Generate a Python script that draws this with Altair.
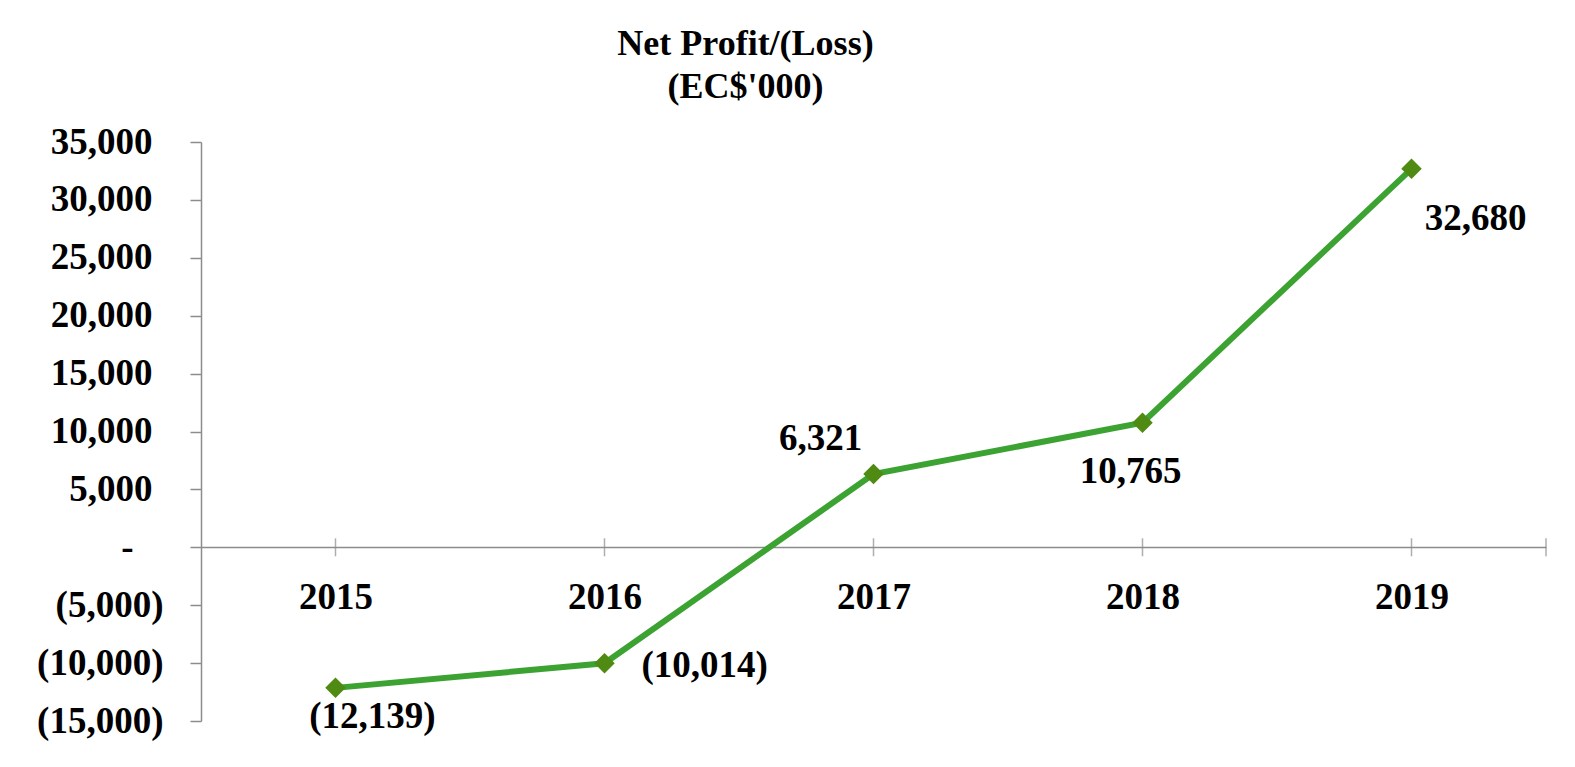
import altair as alt
import pandas as pd

years = [2015, 2016, 2017, 2018, 2019]
net_profit = [-12139, -10014, 6321, 10765, 32680]
y_ticks = [-15000, -10000, -5000, 0, 5000, 10000, 15000, 20000, 25000, 30000, 35000]
x_tick_marks = [2015, 2016, 2017, 2018, 2019, 2019.5]
title_lines = ["Net Profit/(Loss)", "(EC$'000)"]

FONT = "Liberation Serif"
GRAY = "#8c8c8c"
LINE_GREEN = "#3ca332"
MARK_GREEN = "#4f8a12"

df = pd.DataFrame({"year": years, "value": net_profit})
ticks_df = pd.DataFrame({"tx": x_tick_marks})

xscale = alt.Scale(domain=[2014.5, 2019.5], nice=False, zero=False)
yscale = alt.Scale(domain=[-15000, 35000], nice=False)

label_expr = (
    "datum.value < 0 ? '(' + format(-datum.value, ',') + ')' : "
    "(datum.value == 0 ? '-' : format(datum.value, ','))"
)

y_label_padding = {
    "condition": [
        {"test": "datum.value < 0", "value": 27},
        {"test": "datum.value == 0", "value": 57},
    ],
    "value": 38,
}

base = alt.Chart(df)

line = base.mark_line(color=LINE_GREEN, strokeWidth=6).encode(
    x=alt.X("year:Q", scale=xscale,
            axis=alt.Axis(values=years, format="d", title=None, ticks=False,
                          labelPadding=32, offset=-174, domainColor=GRAY,
                          domainWidth=1.5, labelFont=FONT, labelFontSize=37,
                          labelFontWeight="bold", labelColor="black",
                          labelBaseline="top", grid=False)),
    y=alt.Y("value:Q", scale=yscale,
            axis=alt.Axis(values=y_ticks, title=None, labelExpr=label_expr,
                          tickSize=11, tickWidth=1.5, tickColor=GRAY,
                          domainColor=GRAY, domainWidth=1.5,
                          labelPadding=y_label_padding,
                          labelFont=FONT, labelFontSize=37, labelFontWeight="bold",
                          labelColor="black", grid=False)),
)

xticks = alt.Chart(ticks_df).mark_tick(orient="vertical", size=18, thickness=1.5,
                                        color=GRAY).encode(
    x=alt.X("tx:Q", scale=xscale), y=alt.datum(0, scale=yscale)
)

points = base.mark_point(shape="diamond", filled=True, size=420, color=MARK_GREEN,
                         opacity=1).encode(
    x=alt.X("year:Q", scale=xscale), y=alt.Y("value:Q", scale=yscale)
)

def label_layer(yr, dx, dy, align="center"):
    return base.transform_filter(alt.datum.year == yr).transform_calculate(
        lbl="datum.value < 0 ? '(' + format(-datum.value, ',') + ')' : format(datum.value, ',')"
    ).mark_text(font=FONT, fontSize=37, fontWeight="bold", color="black",
                dx=dx, dy=dy, align=align, baseline="middle").encode(
        x=alt.X("year:Q", scale=xscale), y=alt.Y("value:Q", scale=yscale),
        text="lbl:N"
    )

labels = [
    label_layer(2015, 37, 29),
    label_layer(2016, 37, 3, "left"),
    label_layer(2017, -53, -35),
    label_layer(2018, -12, 49),
    label_layer(2019, 64, 50),
]

chart = alt.layer(line, xticks, points, *labels).properties(
    width=1345, height=579,
    background="white",
    padding={"left": 193, "top": 134, "right": 21, "bottom": 38},
    autosize=alt.AutoSizeParams(type="none"),
    title=alt.TitleParams(text=title_lines, font=FONT, fontSize=36,
                          fontWeight="bold", color="black", anchor="middle",
                          lineHeight=43, dx=-128, offset=17),
).configure_view(stroke=None)

chart.save("out.html", embed_options={"renderer": "svg", "actions": False})
